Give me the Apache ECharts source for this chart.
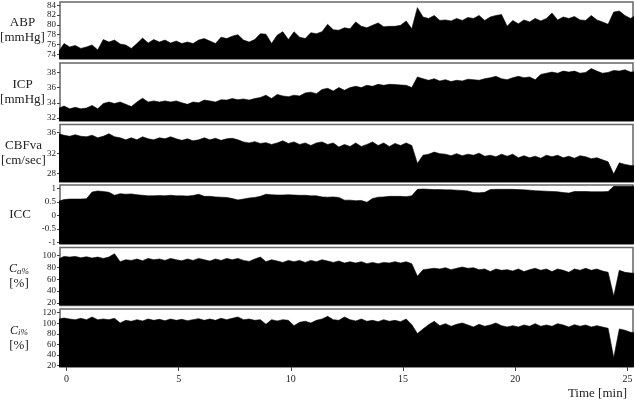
<!DOCTYPE html>
<html>
<head>
<meta charset="utf-8">
<script src="https://cdn.jsdelivr.net/npm/echarts@6/dist/echarts.min.js"></script>
<style>
  html, body { margin: 0; background: #fff; }
  #chart { width: 635px; height: 402px; }
</style>
</head>
<body>
<div id="chart"></div>
<script>
// sampling grid of the recordings (minutes)
const SAMPLE_START = -0.36;
const SAMPLE_STEP = 0.25;

const abp = [
  74.5, 76.2, 75.5, 75.8, 75.2, 75.5, 75.9, 74.9, 77.0, 76.5,
  76.9, 76.1, 75.9, 75.2, 76.2, 77.3, 76.3, 77.0, 76.5, 76.9,
  76.3, 76.7, 76.2, 76.5, 76.2, 76.9, 77.2, 76.7, 76.2, 77.5,
  77.2, 77.7, 78.0, 76.9, 76.5, 77.0, 78.2, 78.1, 76.2, 77.9,
  78.6, 77.0, 78.6, 77.5, 77.2, 78.4, 78.2, 78.6, 80.1, 79.0,
  78.9, 79.4, 79.2, 80.6, 79.7, 79.4, 79.9, 80.4, 79.6, 79.7,
  79.7, 79.9, 80.8, 79.2, 83.5, 81.6, 81.3, 81.9, 80.9, 81.0,
  80.8, 81.3, 80.9, 81.5, 81.3, 81.9, 80.9, 81.6, 81.9, 82.1,
  79.7, 80.9, 80.2, 81.0, 80.6, 81.3, 80.8, 81.3, 82.4, 81.0,
  81.6, 81.3, 81.7, 81.0, 80.9, 81.9, 81.0, 80.6, 80.1, 82.6,
  82.8, 81.9, 81.3, 82.0
];

const icp = [
  33.26, 33.57, 33.2, 33.4, 33.2, 33.3, 33.65, 33.2, 33.9, 34.1,
  33.9, 34.1, 33.8, 33.5, 34.1, 34.6, 34.1, 34.25, 34.1, 34.25,
  34.1, 34.25, 34.0, 33.8, 34.1, 34.0, 34.35, 34.25, 34.1, 34.4,
  34.35, 34.55, 34.4, 34.5, 34.35, 34.55, 34.7, 35.0, 34.55, 35.1,
  34.9, 34.8, 35.0, 34.9, 35.3, 35.4, 35.2, 35.75, 35.9, 35.55,
  36.0, 35.65, 36.0, 36.17, 36.0, 36.3, 36.17, 36.43, 36.3, 36.43,
  36.4, 36.35, 36.3, 36.0, 37.4, 37.17, 36.96, 37.17, 36.87, 37.04,
  36.8, 36.96, 36.87, 37.1, 37.04, 36.96, 37.17, 37.3, 37.48, 37.17,
  37.04, 37.3, 37.48, 37.3, 37.4, 37.04, 37.74, 37.9, 38.04, 37.9,
  38.17, 38.04, 38.17, 37.9, 38.0, 38.5, 38.17, 37.9, 38.0, 38.26,
  38.17, 38.35, 38.04, 38.1
];

const cbfva = [
  35.8, 35.5, 35.3, 35.6, 35.3, 35.2, 35.5, 35.0, 35.3, 35.8,
  35.2, 35.0, 34.6, 35.0, 34.6, 35.2, 34.8, 34.6, 35.0, 34.8,
  35.2, 34.8, 34.5, 34.8, 34.4, 34.6, 35.0, 34.6, 34.9, 34.5,
  34.8, 34.9, 34.6, 34.2, 34.0, 34.25, 33.9, 34.05, 33.7, 34.0,
  34.4, 33.9, 34.2, 33.7, 34.0, 33.5, 34.0, 34.2, 33.7, 34.0,
  33.2, 33.7, 33.3, 34.0, 33.3, 33.7, 34.2, 33.5, 34.0, 33.3,
  33.9, 33.5, 34.0, 33.5, 30.0, 31.6, 31.8, 32.2, 31.9, 31.8,
  31.5, 31.9, 31.5, 31.8, 31.6, 32.0, 31.4, 31.6, 31.3, 31.8,
  31.4, 31.8, 31.1, 31.5, 31.1, 31.4, 31.0, 31.6, 31.3, 31.6,
  31.1, 31.4, 31.0, 31.5, 31.3, 30.9, 31.1, 30.7, 30.3, 27.9,
  30.1, 29.8, 29.6, 29.5
];

const icc = [
  0.52, 0.58, 0.6, 0.6, 0.6, 0.61, 0.86, 0.9, 0.88, 0.85,
  0.74, 0.8, 0.78, 0.79, 0.76, 0.74, 0.72, 0.72, 0.73, 0.72,
  0.74, 0.72, 0.72, 0.71, 0.73, 0.78, 0.7, 0.7, 0.68, 0.67,
  0.66, 0.62, 0.57, 0.6, 0.64, 0.66, 0.7, 0.78, 0.76, 0.75,
  0.75, 0.76, 0.75, 0.74, 0.74, 0.72, 0.72, 0.68, 0.67, 0.68,
  0.66, 0.56, 0.56, 0.54, 0.55, 0.48, 0.62, 0.67, 0.68, 0.7,
  0.7, 0.7, 0.69, 0.72, 0.96, 0.97, 0.96, 0.95, 0.95, 0.94,
  0.94, 0.93, 0.92, 0.9, 0.84, 0.83, 0.85, 0.95, 0.96, 0.96,
  0.96, 0.96, 0.95, 0.94, 0.93, 0.91, 0.9, 0.89, 0.88, 0.87,
  0.84, 0.82, 0.88, 0.88, 0.88, 0.87, 0.87, 0.87, 0.88, 1.07,
  1.07, 1.07, 1.07, 1.07
];

const caPct = [
  94.4, 98.9, 97.7, 98.9, 96.6, 98.3, 96.0, 97.7, 95.5, 97.7,
  103.4, 89.9, 93.2, 92.1, 94.4, 91.5, 95.5, 93.2, 94.4, 92.1,
  95.5, 93.2, 91.5, 94.4, 92.1, 95.5, 93.2, 91.0, 94.4, 92.1,
  95.5, 93.2, 95.5, 92.1, 90.4, 94.4, 97.7, 89.9, 93.2, 91.0,
  88.7, 92.1, 89.9, 92.1, 88.7, 92.1, 89.9, 93.2, 91.0, 88.7,
  91.0, 87.6, 89.9, 87.6, 89.9, 86.5, 88.7, 86.5, 88.7, 87.6,
  89.9, 87.6, 89.9, 86.5, 65.1, 76.3, 77.5, 78.6, 77.5, 79.7,
  76.3, 78.6, 80.8, 78.6, 79.7, 76.3, 77.5, 73.0, 77.5, 75.2,
  76.3, 74.1, 77.5, 73.0, 76.3, 78.6, 75.2, 77.5, 73.0, 77.5,
  75.2, 71.8, 77.5, 75.2, 78.6, 75.2, 77.5, 74.1, 71.8, 31.3,
  75.2, 71.8, 70.7, 70.0
];

const ciPct = [
  108.1, 110.0, 108.1, 106.9, 109.4, 106.9, 111.9, 106.9, 108.1, 106.9,
  109.4, 100.6, 105.6, 103.8, 106.9, 104.4, 108.1, 105.6, 107.5, 105.0,
  108.1, 105.6, 107.5, 105.0, 106.9, 108.8, 105.6, 108.1, 105.6, 109.4,
  106.9, 109.4, 111.9, 106.9, 108.1, 105.6, 106.9, 98.1, 106.9, 104.4,
  106.9, 105.6, 95.6, 101.9, 103.8, 100.6, 105.6, 108.1, 113.1, 106.9,
  105.6, 111.9, 106.9, 104.4, 108.1, 103.8, 105.6, 103.1, 106.9, 103.8,
  105.6, 103.1, 108.1, 97.5, 80.6, 89.4, 97.5, 103.8, 95.6, 99.4,
  94.4, 98.1, 100.6, 96.9, 93.1, 98.1, 94.4, 96.9, 100.6, 95.6,
  93.1, 95.6, 93.1, 96.9, 94.4, 99.4, 94.4, 96.9, 94.4, 99.4,
  96.9, 93.1, 97.5, 94.4, 96.9, 93.1, 95.6, 93.1, 90.6, 35.0,
  89.4, 86.9, 83.1, 82.0
];

const timeTicks = [0, 5, 10, 15, 20, 25];
const abpTicks = [74, 76, 78, 80, 82, 84];
const icpTicks = [32, 34, 36, 38];
const cbfvaTicks = [28, 32, 36];
const iccTicks = [-1, -0.5, 0, 0.5, 1];
const caTicks = [20, 40, 60, 80, 100];
const ciTicks = [20, 40, 60, 80, 100, 120];

const FONT = "'Liberation Serif', 'Times New Roman', serif";
const pctRich = {
  c: { fontFamily: FONT, fontStyle: 'italic', fontSize: 12, color: '#222' },
  s: { fontFamily: FONT, fontStyle: 'italic', fontSize: 9, color: '#222', padding: [5, 0, 0, 0] },
  n: { fontFamily: FONT, fontSize: 13, color: '#222' }
};

const panels = [
  { label: 'ABP\n[mmHg]', values: abp, min: 73.05, max: 84.65, ticks: abpTicks, top: 2, height: 57, gap: 37.5 },
  { label: 'ICP\n[mmHg]', values: icp, min: 31.6, max: 39.24, ticks: icpTicks, top: 63, height: 58, gap: 37.5 },
  { label: 'CBFva\n[cm/sec]', values: cbfva, min: 26.36, max: 37.6, ticks: cbfvaTicks, top: 124.5, height: 57.5, gap: 36.5 },
  { label: 'ICC', values: icc, min: -1.06, max: 1.12, ticks: iccTicks, top: 185, height: 59, gap: 40 },
  { label: '{c|C}{s|a%}\n{n|[%]}', values: caPct, min: 15.4, max: 114, ticks: caTicks, top: 247.5, height: 58, gap: 41, rich: true },
  { label: '{c|C}{s|i%}\n{n|[%]}', values: ciPct, min: 17.6, max: 127, ticks: ciTicks, top: 309, height: 58, gap: 41, rich: true }
];

const times = abp.map((_, i) => SAMPLE_START + i * SAMPLE_STEP);

const chart = echarts.init(document.getElementById('chart'), null, { renderer: 'canvas' });
const last = panels.length - 1;

chart.setOption({
  animation: false,
  backgroundColor: '#fff',
  grid: panels.map((p) => ({
    left: 60, right: 2, top: p.top, height: p.height,
    outerBoundsMode: 'none', containLabel: false,
    show: true, borderColor: '#666', borderWidth: 1.5, backgroundColor: 'transparent'
  })),
  xAxis: panels.map((p, i) => ({
    type: 'value', gridIndex: i, min: -0.29, max: 25.25,
    axisLine: { show: false, onZero: false },
    splitLine: { show: false },
    axisTick: { show: i === last, customValues: timeTicks, length: 4, lineStyle: { color: '#444' } },
    axisLabel: { show: i === last, customValues: timeTicks, fontFamily: FONT, fontSize: 10, color: '#222', margin: 7 }
  })),
  yAxis: panels.map((p, i) => ({
    type: 'value', gridIndex: i, min: p.min, max: p.max,
    name: p.label, nameLocation: 'middle', nameRotate: 0, nameGap: p.gap, nameMoveOverlap: false,
    nameTextStyle: {
      fontFamily: FONT, fontSize: 13, color: '#222', align: 'center', verticalAlign: 'middle', lineHeight: 15,
      rich: p.rich ? pctRich : undefined
    },
    axisLine: { show: false, onZero: false },
    splitLine: { show: false },
    axisTick: { show: true, customValues: p.ticks, length: 3, lineStyle: { color: '#444' } },
    axisLabel: { customValues: p.ticks, fontFamily: FONT, fontSize: 9, color: '#222', margin: 4 }
  })),
  series: panels.map((p, i) => ({
    type: 'line', xAxisIndex: i, yAxisIndex: i,
    data: p.values.map((v, k) => [times[k], v]),
    showSymbol: false, symbol: 'none', clip: true,
    lineStyle: { color: '#000', width: 0.6 },
    areaStyle: { color: '#000', opacity: 1, origin: 'start' }
  })),
  graphic: [{
    type: 'text', right: 8, top: 387,
    style: { text: 'Time [min]', font: '13px ' + FONT, fill: '#222' }
  }]
});
</script>
</body>
</html>
